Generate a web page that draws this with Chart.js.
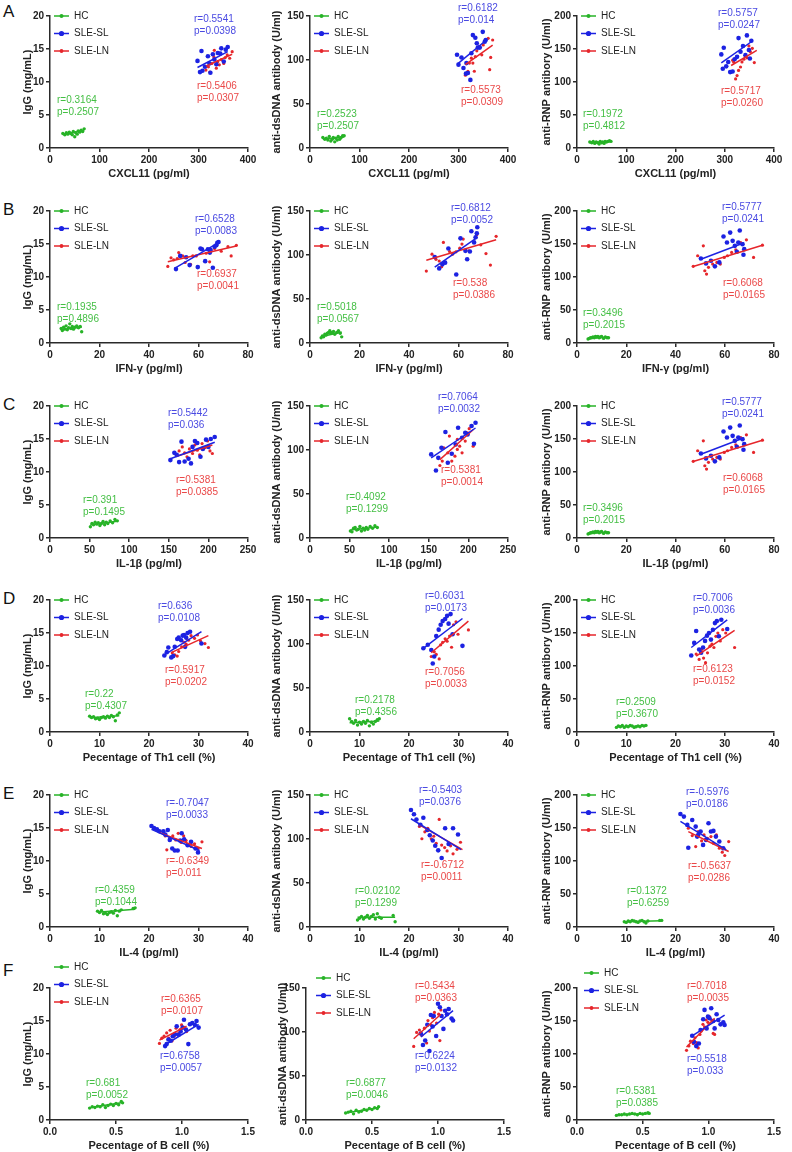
<!DOCTYPE html>
<html>
<head>
<meta charset="utf-8">
<script src="https://cdn.jsdelivr.net/npm/chart.js@4.4.1/dist/chart.umd.min.js"></script>
<style>
  body { margin: 0; background: #fff; width: 792px; height: 1152px; position: relative; overflow: hidden; font-family: 'Liberation Sans', Arial, sans-serif; }
  canvas { position: absolute; }
  .tag { position: absolute; font-size: 17px; color: #111; line-height: 1; }
</style>
</head>
<body>
<script>
// ---- tick values ----
const xTicksCXCL11 = [0, 100, 200, 300, 400];
const xTicks80 = [0, 20, 40, 60, 80];
const xTicks250 = [0, 50, 100, 150, 200, 250];
const xTicks40 = [0, 10, 20, 30, 40];
const xTicksB = [0, 0.5, 1, 1.5];
const yTicksIgG = [0, 5, 10, 15, 20];
const yTicksDsDNA = [0, 50, 100, 150];
const yTicksRNP = [0, 50, 100, 150, 200];

// ---- group labels ----
const groupNames = ['HC', 'SLE-SL', 'SLE-LN'];

// ---- HC x values per row ----
const hcXA = [26, 30, 33, 36, 39, 42, 45, 47, 50, 52, 55, 57, 60, 63, 66, 69];
const hcXB = [4.5, 5, 5.5, 6, 6.5, 7, 7.5, 8, 8.5, 9, 9.5, 10, 10.8, 11.5, 12.2, 12.8];
const hcXC = [51, 53, 55, 57, 59, 61, 63, 65, 67, 69, 71, 73, 76, 79, 82, 85];
const hcXD = [8, 8.4, 8.8, 9.2, 9.6, 10, 10.4, 10.8, 11.2, 11.6, 12, 12.4, 12.8, 13.2, 13.6, 14];
const hcXE = [9.6, 10, 10.4, 10.8, 11.2, 11.6, 12, 12.4, 12.8, 13.2, 13.6, 14, 14.4, 16.8, 17.2];
const hcXF = [0.30, 0.32, 0.34, 0.36, 0.38, 0.40, 0.42, 0.44, 0.46, 0.48, 0.50, 0.52, 0.54, 0.55];

// ---- row A: CXCL11 ----
const a1HCy = [2.2, 2.0, 2.3, 2.1, 2.4, 2.2, 2.0, 2.5, 1.7, 2.3, 2.1, 2.6, 2.4, 2.7, 2.5, 2.9];
const a1SL = [[298,13.2],[303,11.5],[306,14.7],[308,11.7],[313,12.3],[319,13.9],[322,12.8],[324,11.4],[329,14.2],[332,13.4],[336,12.7],[339,14.4],[344,14.3],[346,15.1],[351,13.1],[355,14.9],[359,15.3]];
const a1LN = [[315,11.8],[320,12.3],[323,11.5],[327,12.8],[331,13.8],[332,14.8],[336,12.1],[339,13.1],[342,12.6],[346,13.4],[351,12.8],[354,13.7],[358,14.1],[363,13.6],[368,14.6]];
const a1Fit = [[26,2.0,69,2.7],[298,12.2,359,14.6],[315,12.4,368,14.2]];
const a1Stats = ['r=0.3164','p=0.2507','r=0.5541','p=0.0398','r=0.5406','p=0.0307'];

const a2HCy = [12, 10, 11, 9, 13, 8, 10, 12, 7, 11, 9, 13, 10, 12, 14, 14];
const a2SL = [[297,105.9],[300,94.7],[306,102.9],[310,90.9],[315,84.5],[316,96.5],[319,85.3],[324,77.4],[326,107.7],[329,128.3],[334,125.3],[337,119],[339,114.1],[343,114.1],[349,132],[353,120.8],[355,122.7]];
const a2LN = [[314,82.7],[319,87.2],[322,96.5],[326,102.1],[329,96.5],[332,87.2],[334,104],[337,110.4],[342,115.2],[347,105.9],[350,117.1],[354,122.7],[360,124.6],[363,89],[365,102.9],[369,122.7]];
const a2Fit = [[26,10,69,12.5],[297,95,357,123],[314,94.7,369,117]];
const a2Stats = ['r=0.2523','p=0.2507','r=0.6182','p=0.014','r=0.5573','p=0.0309'];

const a3HCy = [9, 8, 10, 7, 9, 8, 6, 10, 8, 9, 7, 10, 9, 10, 11, 10];
const a3SL = [[293,141.8],[296,120.1],[298,152],[303,123.7],[307,130.4],[311,115],[316,116],[320,134.5],[325,138.1],[328,166.5],[332,145.9],[337,154.6],[342,140.7],[345,170.6],[349,148.5],[351,135.6],[354,162.4]];
const a3LN = [[313,115],[316,133],[318,130.4],[322,104.6],[325,109.8],[328,117.5],[332,122.7],[335,130.4],[339,134.5],[342,140.7],[345,136.6],[349,154.6],[352,145.9],[356,151],[360,129.4]];
const a3Fit = [[26,8,69,9.8],[293,129,354,161],[313,125,365,148]];
const a3Stats = ['r=0.1972','p=0.4812','r=0.5757','p=0.0247','r=0.5717','p=0.0260'];

// ---- row B: IFN-gamma ----
const b1HCy = [2.2, 1.9, 2.4, 2.1, 2.6, 2.0, 2.3, 2.9, 2.2, 2.5, 2.1, 2.4, 2.6, 2.3, 2.5, 1.7];
const b1SL = [[50.9,11.2],[52.6,13.2],[55,13],[56.4,11.8],[59.7,11.5],[60.8,14.3],[61.4,14.2],[62.7,12.4],[63.8,14.2],[64.6,13.7],[64.9,14.1],[65.8,11.4],[66.5,14.6],[67.2,14.8],[67.6,15.2],[68.1,15.3]];
const b1LN = [[47.6,11.6],[48.9,12.9],[50,12.6],[51.4,12.8],[52,13.7],[53.6,13.2],[54.6,12.2],[56.8,11.9],[57.7,13.2],[59.1,13.2],[61.1,14.3],[63.1,13.6],[64.5,12.3],[66.5,14.3],[69.2,13.9],[71.9,14.6],[73.2,13.2],[75.3,14.8]];
const b1Fit = [[4.5,2.05,12.8,2.4],[50.3,11.3,68.1,15.2],[47.6,12.3,75.3,14.7]];
const b1Stats = ['r=0.1935','p=0.4896','r=0.6528','p=0.0083','r=0.6937','p=0.0041'];

const b2HCy = [6, 8, 7, 10, 9, 11, 12, 14, 11, 12, 13, 10, 12, 14, 11, 7];
const b2SL = [[50.4,97.8],[52.2,84.8],[53.5,89.4],[54.6,91.3],[55.9,107.4],[59.1,77.9],[60.8,118.9],[62.8,104.7],[63.5,95.1],[64.6,103.9],[65.2,127],[66.3,114.3],[66.9,120.1],[67.4,124.7],[67.6,131.6]];
const b2LN = [[47,81.7],[49.3,100.9],[50.9,95.1],[52.2,93.2],[53.2,86.7],[53.9,114.3],[56.4,104],[57.6,100.9],[59,103.6],[60.5,107.8],[61.4,112.4],[61.9,118.1],[64.2,104.7],[67.4,123.1],[69,111.6],[71.1,101.6],[72.9,88.6],[75.2,121.2]];
const b2Fit = [[4.5,7,12.8,12.5],[50.4,86.3,67.6,120],[47,94,75.2,117.4]];
const b2Stats = ['r=0.5018','p=0.0567','r=0.6812','p=0.0052','r=0.538','p=0.0386'];

const b3HCy = [6, 7, 8, 8, 9, 8, 10, 9, 10, 8, 9, 10, 7, 9, 8, 8];
const b3SL = [[50.3,128.1],[52.4,120.6],[54.4,124.6],[56,116.1],[57.8,122.1],[59.5,161.3],[60.9,152.3],[62.2,167.3],[63.2,154.8],[64.1,147.2],[64.9,138.2],[65.5,152.3],[66.1,170.4],[67.2,149.7],[67.6,133.7],[67.9,142.2]];
const b3LN = [[47.2,116.1],[49,132.2],[51.3,147.2],[51.9,109.5],[52.6,104.5],[53.4,114.6],[55.1,119.6],[56.8,122.1],[58.2,119.6],[59.8,129.6],[61.1,132.2],[62.8,137.2],[64.5,141.2],[66.5,152.3],[68.8,156.3],[71.7,129.6],[75.3,148.2]];
const b3Fit = [[4.5,7,12.8,9],[50.3,127,67.9,152],[47.2,116,75.3,148]];
const b3Stats = ['r=0.3496','p=0.2015','r=0.5777','p=0.0241','r=0.6068','p=0.0165'];

// ---- row C: IL-1beta ----
const c1HCy = [1.7, 2.2, 2.0, 2.4, 2.1, 2.3, 1.9, 2.2, 2.5, 2.0, 2.4, 2.2, 2.6, 2.3, 2.8, 2.6];
const c1SL = [[152,11.8],[157,12.9],[160,12.6],[163,11.5],[166,14.6],[170,11.6],[175,12.0],[178,11.3],[180,13.8],[183,14.7],[186,14.4],[190,12.3],[193,13.5],[197,14.9],[200,13.8],[203,15.0],[208,15.3]];
const c1LN = [[160,12.5],[163,13.2],[167,13.8],[170,12.9],[173,12.3],[176,13.5],[180,12.8],[183,14.1],[186,13.3],[189,12.6],[192,14.3],[196,13.7],[199,14.7],[202,13.2],[205,12.8]];
const c1Fit = [[51,2.0,85,2.55],[152,12.0,208,14.5],[160,12.4,205,14.1]];
const c1Stats = ['r=0.391','p=0.1495','r=0.5442','p=0.036','r=0.5381','p=0.0385'];

const c2HCy = [8, 7, 11, 12, 9, 10, 13, 8, 11, 9, 12, 10, 13, 11, 14, 12];
const c2SL = [[153,95],[159,76.7],[162,91.1],[166,102.5],[171,120.4],[174,85.5],[179,95.7],[184,106.3],[187,125.3],[192,113.9],[196,119.6],[199,117.7],[204,127.2],[207,107.1],[209,131]];
const c2LN = [[164,82.4],[167,87.4],[169,102.5],[174,96.8],[176,115.8],[179,87.4],[183,93],[186,100.6],[186,112],[189,104.4],[192,96.8],[196,110.1],[199,119.6],[201,124.2],[206,104.4]];
const c2Fit = [[51,9,85,12.5],[153,91,209,125],[164,89,206,123]];
const c2Stats = ['r=0.4092','p=0.1299','r=0.7064','p=0.0032','r=0.5381','p=0.0014'];

// ---- row D: Th1 % ----
const d1HCy = [2.4, 2.2, 2.3, 2.0, 2.1, 1.9, 2.2, 2.3, 2.1, 2.4, 2.2, 2.5, 2.3, 1.7, 2.6, 2.9];
const d1SL = [[23.1,11.6],[23.6,12.1],[23.9,12.8],[24.5,11.3],[24.9,11.5],[25.2,12.9],[25.7,14.1],[26,14.3],[26.5,13.9],[26.8,14.6],[27.1,14.7],[27.3,12.9],[27.5,14.3],[27.8,15],[28.3,15.2],[30.6,13.4]];
const d1LN = [[24.7,12],[25.2,11.7],[25.7,11.5],[26,12.2],[26.6,12.9],[27.1,13.6],[27.5,13.3],[27.6,14.2],[28,13.9],[28.5,14.6],[29.2,14.2],[29.8,14.7],[30.4,13.8],[31.3,13.4],[32,12.8]];
const d1Fit = [[8,2.15,14,2.45],[23.1,11.7,30.6,15.2],[24.7,12.1,32,14.6]];
const d1Stats = ['r=0.22','p=0.4307','r=0.636','p=0.0108','r=0.5917','p=0.0202'];

const d2HCy = [15, 12, 10, 13, 8, 11, 9, 12, 10, 13, 7, 11, 9, 12, 14, 15];
const d2SL = [[22.9,95.1],[23.8,99.1],[24.5,93.1],[24.8,77.8],[25.1,85.8],[25.5,109.1],[26,116.3],[26.4,121.9],[26.8,126],[27.3,128.4],[27.7,132],[28,123.1],[28.4,134],[28.8,111.1],[30.8,97.9]];
const d2LN = [[24.5,85.8],[25.1,91.1],[25.5,88.2],[26.1,83],[26.4,99.1],[26.8,101.9],[27.3,105.9],[27.7,103.1],[28.2,109.1],[28.6,96.3],[29,121.9],[29.5,125.2],[29.9,111.1],[32,116]];
const d2Fit = [[8,10.5,14,12.5],[22.9,95,30.8,129],[24.5,90,32,126]];
const d2Stats = ['r=0.2178','p=0.4356','r=0.6031','p=0.0173','r=0.7056','p=0.0033'];

const d3HCy = [7, 9, 8, 10, 7, 9, 8, 10, 9, 7, 8, 9, 8, 10, 9, 10];
const d3SL = [[23.2,116],[23.8,135],[24.2,153],[24.8,125],[25.2,120],[25.6,128],[26,138],[26.4,146],[26.8,150],[27.2,140],[27.6,155],[28,165],[28.4,168],[28.8,145],[29.3,170],[30.5,156]];
const d3LN = [[24.2,118],[24.8,110],[25.3,125],[25.7,112],[26.1,105],[26.5,120],[27,130],[27.4,133],[27.8,128],[28.2,145],[28.6,150],[29.1,138],[29.6,155],[30.2,150],[32,128]];
const d3Fit = [[8,8,14,9],[23.2,128,30.5,170],[24.2,115,32,154]];
const d3Stats = ['r=0.2509','p=0.3670','r=0.7006','p=0.0036','r=0.6123','p=0.0152'];

// ---- row E: IL-4 ----
const e1HCy = [2.4, 2.2, 2.5, 2.0, 2.1, 1.9, 2.2, 2.3, 2.1, 2.5, 1.7, 2.4, 2.6, 2.8, 2.9];
const e1SL = [[20.5,15.3],[21,15],[21.6,14.8],[22.1,14.5],[22.9,14.5],[23.3,14],[23.8,14.7],[24.2,13.2],[24.7,11.9],[25.2,11.6],[25.8,11.6],[26.3,13.1],[26.6,14.2],[27.1,13.3],[27.8,12.4],[28.5,12.9],[29.4,11.9],[29.9,11.3]];
const e1LN = [[22.9,14.2],[23.3,13.8],[23.6,11.7],[24.2,13.5],[24.8,13.8],[25.4,13.2],[25.9,14.2],[26.5,12.8],[27,13.8],[27.5,13.1],[28,12.4],[28.5,12.2],[29.2,12.6],[29.9,11.9],[30.7,12.9]];
const e1Fit = [[9.6,2.25,17.2,2.7],[20.5,14.8,30.2,11.6],[22.1,14.3,30.7,11.9]];
const e1Stats = ['r=0.4359','p=0.1044','r=-0.7047','p=0.0033','r=-0.6349','p=0.011'];

const e2HCy = [8, 10, 12, 9, 11, 13, 10, 12, 14, 9, 15, 11, 10, 13, 6];
const e2SL = [[20.4,132.9],[21,128.1],[21.5,122.2],[22.3,116.2],[22.9,124.2],[23.7,110.2],[24.2,104.3],[24.8,98.3],[25.3,92.3],[25.9,87.1],[26.6,78.4],[27.3,112.2],[28,94.3],[28.9,112.2],[29.9,105.1]];
const e2LN = [[22.1,114.2],[22.6,100.3],[23.2,108.2],[23.8,112.2],[24.5,100.3],[25,103.1],[25.5,95.1],[26.1,122.2],[26.6,93.1],[27.2,90.3],[27.7,86.4],[28.4,92.3],[28.9,83.2],[29.7,88.3],[30.4,96.3]];
const e2Fit = [[9.6,11,17.2,11.2],[20.4,123,30.5,88],[22.1,116,30.8,88]];
const e2Stats = ['r=0.02102','p=0.1299','r=-0.5403','p=0.0376','r=-0.6712','p=0.0011'];

const e3HCy = [8, 7, 9, 8, 10, 9, 8, 7, 9, 10, 8, 6, 9, 10, 10];
const e3SL = [[21,171.3],[21.7,167.3],[22.4,154.7],[22.6,120],[23.4,162.2],[24.1,152.1],[24.4,137],[24.6,139.5],[25.1,144.6],[25.6,124.4],[26.2,132],[26.7,157.2],[27.2,144.6],[27.7,145.6],[28.2,137],[28.9,129.5],[29.7,119.4]];
const e3LN = [[22.6,149.6],[23.4,138.5],[24.1,121.9],[24.6,144.6],[25.3,130.5],[25.8,139.5],[26.5,134.5],[27.2,137],[27.7,127],[28.3,139.5],[28.9,119.4],[29.5,113.4],[30,108.3],[30.8,129.5]];
const e3Fit = [[9.6,8,17.2,9.5],[21,160,30.3,117],[22.6,144.6,30.8,114.4]];
const e3Stats = ['r=0.1372','p=0.6259','r=-0.5976','p=0.0186','r=-0.5637','p=0.0286'];

// ---- row F: B cell % ----
const f1HCy = [1.8, 2.0, 1.9, 2.1, 2.0, 2.3, 1.9, 2.2, 2.4, 2.2, 2.5, 2.3, 2.8, 2.6];
const f1SL = [[0.872,11.2],[0.884,11.5],[0.897,12.2],[0.915,12],[0.93,12.7],[0.947,13],[0.96,14.2],[0.975,12.9],[0.99,13.4],[1.005,14],[1.015,15.2],[1.03,13.7],[1.048,11.5],[1.06,14.5],[1.078,14.7],[1.098,14.4],[1.11,15],[1.126,14]];
const f1LN = [[0.829,11.6],[0.847,12.4],[0.864,12.7],[0.884,13.2],[0.9,12.4],[0.91,13.6],[0.925,12],[0.94,12.7],[0.955,13.9],[0.972,13.1],[0.985,13.7],[0.997,14.4],[1.015,14],[1.035,13.4]];
const f1Fit = [[0.3,1.85,0.55,2.65],[0.872,11.4,1.126,14.5],[0.829,12.1,1.035,14.2]];
const f1Stats = ['r=0.681','p=0.0052','r=0.6758','p=0.0057','r=0.6365','p=0.0107'];

const f2HCy = [8, 9, 10, 7, 11, 9, 10, 12, 11, 13, 12, 14, 13, 15];
const f2SL = [[0.87,98.3],[0.886,85.2],[0.903,90.3],[0.919,108.2],[0.935,78.4],[0.946,119.4],[0.959,106.2],[0.968,118.2],[0.986,95.5],[1.0,132.1],[1.014,128.1],[1.027,118.2],[1.041,103.5],[1.054,124.2],[1.068,120.2],[1.081,126.1],[1.103,115.4],[1.114,113]];
const f2LN = [[0.816,83.6],[0.838,99.5],[0.859,102.3],[0.878,96.3],[0.897,104.3],[0.914,87.5],[0.924,113],[0.935,101.1],[0.946,108.2],[0.959,116.2],[0.973,122.2],[0.989,110.2],[1.005,120.2],[1.014,90.3],[1.022,125]];
const f2Fit = [[0.3,8,0.55,14],[0.87,94.3,1.114,124.2],[0.816,92.3,1.022,120.2]];
const f2Stats = ['r=0.6877','p=0.0046','r=0.6224','p=0.0132','r=0.5434','p=0.0363'];

const f3HCy = [7, 8, 8, 9, 8, 9, 10, 9, 8, 10, 9, 10, 11, 10];
const f3SL = [[0.877,127.6],[0.89,118.4],[0.908,112],[0.928,115.8],[0.941,136.2],[0.961,152.6],[0.971,166.8],[0.987,138.8],[0.997,156.6],[1.009,154.1],[1.022,169.4],[1.037,150],[1.048,138.8],[1.063,160.2],[1.076,151.5],[1.093,144.9],[1.114,148],[1.124,143.9]];
const f3LN = [[0.834,105.6],[0.852,112.2],[0.864,119.4],[0.885,115.8],[0.898,124.5],[0.91,117.3],[0.923,109.2],[0.936,129.6],[0.946,134.7],[0.959,144.9],[0.971,141.3],[0.984,151.5],[0.997,148],[1.009,156.6],[1.025,151.5],[1.037,131.1],[1.048,129.6]];
const f3Fit = [[0.3,7.5,0.55,10],[0.877,127.6,1.124,159],[0.834,110.7,1.048,154.1]];
const f3Stats = ['r=0.5381','p=0.0385','r=0.5518','p=0.033','r=0.7018','p=0.0035'];

// ---- styling ----
const family = "'Liberation Sans', Arial, sans-serif";
const groupColors = ['#27b327', '#1c22e2', '#e6262b'];
const textColors = ['#44bf44', '#4a4ae2', '#ea4848'];
const pointSizes = [1.7, 2.3, 1.6];
const axisColor = '#2a2a2a';

const xAxes = {
  cxcl: { title: 'CXCL11 (pg/ml)', ticks: xTicksCXCL11 },
  ifn: { title: 'IFN-\u03b3 (pg/ml)', ticks: xTicks80 },
  il1: { title: 'IL-1\u03b2 (pg/ml)', ticks: xTicks250 },
  il1b80: { title: 'IL-1\u03b2 (pg/ml)', ticks: xTicks80 },
  th1: { title: 'Pecentage of Th1 cell (%)', ticks: xTicks40 },
  il4: { title: 'IL-4 (pg/ml)', ticks: xTicks40 },
  bcell: { title: 'Pecentage of B cell (%)', ticks: xTicksB, dec: 1 }
};
const yAxes = {
  igg: { title: 'IgG (mg/mL)', ticks: yTicksIgG },
  ds: { title: 'anti-dsDNA antibody (U/ml)', ticks: yTicksDsDNA },
  rnp: { title: 'anti-RNP antibory (U/ml)', ticks: yTicksRNP }
};

const rowTops = [0, 195, 390, 584, 779, 972];
const colGeom = [
  { yWidth: 50, right: 16, titleX: 28 },
  { yWidth: 46, right: 20, titleX: 13 },
  { yWidth: 49, right: 18, titleX: 19 }
];

function zip(xs, ys) { return xs.map((x, i) => [x, ys[i]]); }

const panels = [
  { row: 0, col: 0, x: 'cxcl', y: 'igg', hc: zip(hcXA, a1HCy), sl: a1SL, ln: a1LN, fit: a1Fit, stats: a1Stats, pos: [[7,84],[144,3],[147,70]] },
  { row: 0, col: 1, x: 'cxcl', y: 'ds', hc: zip(hcXA, a2HCy), sl: a2SL, ln: a2LN, fit: a2Fit, stats: a2Stats, pos: [[7,98],[148,-8],[151,74]] },
  { row: 0, col: 2, x: 'cxcl', y: 'rnp', hc: zip(hcXA, a3HCy), sl: a3SL, ln: a3LN, fit: a3Fit, stats: a3Stats, pos: [[6,98],[141,-3],[144,75]] },
  { row: 1, col: 0, x: 'ifn', y: 'igg', hc: zip(hcXB, b1HCy), sl: b1SL, ln: b1LN, fit: b1Fit, stats: b1Stats, pos: [[7,96],[145,8],[147,63]] },
  { row: 1, col: 1, x: 'ifn', y: 'ds', hc: zip(hcXB, b2HCy), sl: b2SL, ln: b2LN, fit: b2Fit, stats: b2Stats, pos: [[7,96],[141,-3],[143,72]] },
  { row: 1, col: 2, x: 'ifn', y: 'rnp', hc: zip(hcXB, b3HCy), sl: b3SL, ln: b3LN, fit: b3Fit, stats: b3Stats, pos: [[6,102],[145,-4],[146,72]] },
  { row: 2, col: 0, x: 'il1', y: 'igg', hc: zip(hcXC, c1HCy), sl: c1SL, ln: c1LN, fit: c1Fit, stats: c1Stats, pos: [[33,94],[118,7],[126,74]] },
  { row: 2, col: 1, x: 'il1', y: 'ds', hc: zip(hcXC, c2HCy), sl: c2SL, ln: c2LN, fit: c2Fit, stats: c2Stats, pos: [[36,91],[128,-9],[131,64]] },
  { row: 2, col: 2, x: 'il1b80', y: 'rnp', hc: zip(hcXB, b3HCy), sl: b3SL, ln: b3LN, fit: b3Fit, stats: b3Stats, pos: [[6,102],[145,-4],[146,72]] },
  { row: 3, col: 0, x: 'th1', y: 'igg', hc: zip(hcXD, d1HCy), sl: d1SL, ln: d1LN, fit: d1Fit, stats: d1Stats, pos: [[35,94],[108,6],[115,70]] },
  { row: 3, col: 1, x: 'th1', y: 'ds', hc: zip(hcXD, d2HCy), sl: d2SL, ln: d2LN, fit: d2Fit, stats: d2Stats, pos: [[45,100],[115,-4],[115,72]] },
  { row: 3, col: 2, x: 'th1', y: 'rnp', hc: zip(hcXD, d3HCy), sl: d3SL, ln: d3LN, fit: d3Fit, stats: d3Stats, pos: [[39,102],[116,-2],[116,69]] },
  { row: 4, col: 0, x: 'il4', y: 'igg', hc: zip(hcXE, e1HCy), sl: e1SL, ln: e1LN, fit: e1Fit, stats: e1Stats, pos: [[45,95],[116,8],[116,66]] },
  { row: 4, col: 1, x: 'il4', y: 'ds', hc: zip(hcXE, e2HCy), sl: e2SL, ln: e2LN, fit: e2Fit, stats: e2Stats, pos: [[45,96],[109,-5],[111,70]] },
  { row: 4, col: 2, x: 'il4', y: 'rnp', hc: zip(hcXE, e3HCy), sl: e3SL, ln: e3LN, fit: e3Fit, stats: e3Stats, pos: [[50,96],[109,-3],[111,71]] },
  { row: 5, col: 0, x: 'bcell', y: 'igg', hc: zip(hcXF, f1HCy), sl: f1SL, ln: f1LN, fit: f1Fit, stats: f1Stats, pos: [[36,95],[110,68],[111,11]], legend: [4,-21] },
  { row: 5, col: 1, x: 'bcell', y: 'ds', hc: zip(hcXF, f2HCy), sl: f2SL, ln: f2LN, fit: f2Fit, stats: f2Stats, pos: [[40,95],[109,68],[109,-2]], legend: [10,-10], geom: { yWidth: 42, right: 24, titleX: 19 } },
  { row: 5, col: 2, x: 'bcell', y: 'rnp', hc: zip(hcXF, f3HCy), sl: f3SL, ln: f3LN, fit: f3Fit, stats: f3Stats, pos: [[39,103],[110,71],[110,-2]], legend: [7,-15] }
];

// legend + r/p labels drawn on the canvas
const panelText = {
  id: 'panelText',
  afterDraw(chart, args, opts) {
    const { ctx, chartArea } = chart;
    ctx.save();
    ctx.font = '10px ' + family;
    ctx.textBaseline = 'middle';
    ctx.textAlign = 'left';
    groupNames.forEach((name, i) => {
      const x = chartArea.left + opts.legend[0];
      const y = chartArea.top + opts.legend[1] + i * 17.5;
      ctx.strokeStyle = groupColors[i];
      ctx.lineWidth = 1.5;
      ctx.beginPath(); ctx.moveTo(x, y); ctx.lineTo(x + 15, y); ctx.stroke();
      ctx.fillStyle = groupColors[i];
      ctx.beginPath(); ctx.arc(x + 7.5, y, pointSizes[i] + 0.3, 0, Math.PI * 2); ctx.fill();
      ctx.fillStyle = '#222';
      ctx.fillText(name, x + 20, y);
    });
    opts.pos.forEach((p, i) => {
      ctx.fillStyle = textColors[i];
      ctx.fillText(opts.stats[i * 2], chartArea.left + p[0], chartArea.top + p[1]);
      ctx.fillText(opts.stats[i * 2 + 1], chartArea.left + p[0], chartArea.top + p[1] + 12);
    });
    ctx.restore();
  }
};

function buildDatasets(p) {
  const groups = [p.hc, p.sl, p.ln];
  const sets = [];
  groups.forEach((g, i) => {
    const f = p.fit[i];
    sets.push({
      data: [{ x: f[0], y: f[1] }, { x: f[2], y: f[3] }],
      showLine: true, borderColor: groupColors[i], borderWidth: 1.5,
      pointRadius: 0, order: 0
    });
  });
  groups.forEach((g, i) => {
    sets.push({
      data: g.map(([x, y]) => ({ x, y })),
      showLine: false, backgroundColor: groupColors[i], borderColor: groupColors[i],
      borderWidth: 0, pointRadius: pointSizes[i], order: 1
    });
  });
  return sets;
}

function axisCfg(ax, isX, geom) {
  const t = ax.ticks;
  return {
    type: 'linear',
    min: t[0],
    max: t[t.length - 1],
    afterBuildTicks: s => { s.ticks = t.map(v => ({ value: v })); },
    afterFit: s => { if (isX) s.height = 42; else s.width = geom.yWidth; },
    border: { display: true, color: axisColor, width: 1.5 },
    grid: { drawOnChartArea: false, drawTicks: true, tickLength: 4, color: axisColor, tickColor: axisColor, lineWidth: 1.5 },
    ticks: {
      color: '#222', padding: 2, maxRotation: 0, autoSkip: false,
      font: { family, size: 10, weight: 'bold' },
      callback: v => ax.dec ? Number(v).toFixed(ax.dec) : String(v)
    },
    title: {
      display: true, text: ax.title, color: '#222',
      font: { family, size: 11, weight: 'bold' },
      padding: isX ? { top: 0, bottom: 9 } : { top: geom.titleX - 6.6, bottom: 0 }
    }
  };
}

['A', 'B', 'C', 'D', 'E', 'F'].forEach((letter, r) => {
  const d = document.createElement('div');
  d.className = 'tag';
  d.textContent = letter;
  d.style.left = '3px';
  d.style.top = (r === 5 ? rowTops[r] - 10 : rowTops[r] + (r === 0 ? 3 : 6)) + 'px';
  document.body.appendChild(d);
});

panels.forEach(p => {
  const geom = p.geom || colGeom[p.col];
  const cv = document.createElement('canvas');
  cv.width = 264; cv.height = 200;
  cv.style.width = '264px'; cv.style.height = '200px';
  cv.style.left = (p.col * 264) + 'px';
  cv.style.top = (rowTops[p.row] - 10) + 'px';
  document.body.appendChild(cv);

  new Chart(cv, {
    type: 'scatter',
    data: { datasets: buildDatasets(p) },
    options: {
      responsive: false,
      animation: false,
      devicePixelRatio: 1,
      layout: { padding: { top: 26, right: geom.right, left: 0, bottom: 0 } },
      scales: {
        x: axisCfg(xAxes[p.x], true, geom),
        y: axisCfg(yAxes[p.y], false, geom)
      },
      plugins: {
        legend: { display: false },
        tooltip: { enabled: false },
        panelText: { legend: p.legend || [4, 0], pos: p.pos, stats: p.stats }
      }
    },
    plugins: [panelText]
  });
});
</script>
</body>
</html>
